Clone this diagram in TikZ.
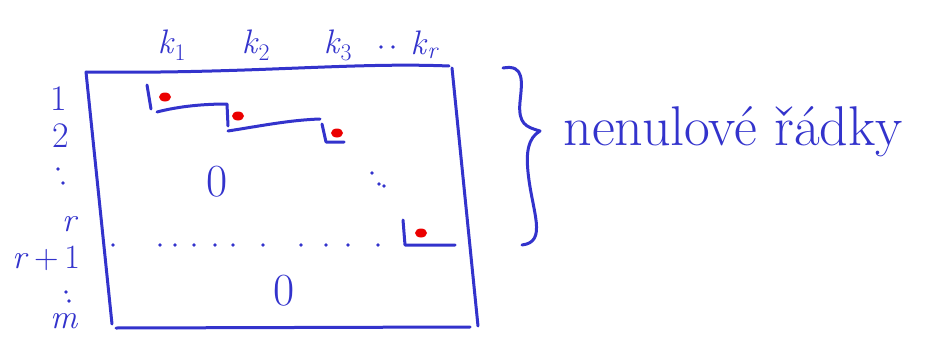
\documentclass[tikz,border=0pt]{standalone}
\usepackage{tikz}
\usetikzlibrary{calc}
\definecolor{ink}{RGB}{51,51,204}
\definecolor{pivot}{RGB}{235,0,0}

\begin{document}
\begin{tikzpicture}[x=1pt,y=-1pt,line width=3pt,line cap=round,line join=round,
  lbl/.style={ink,inner sep=0pt,font=\fontsize{34}{38}\selectfont},
  dot/.style={ink,radius=1.8}]
  \useasboundingbox (0,0) rectangle (939,337);
  % matrix frame
  \draw[ink] (86,72) .. controls (250,74) and (350,62) .. (449,66);
  \draw[ink] (86,72) -- (112,324);
  \draw[ink] (452,68) -- (478,326);
  \draw[ink] (116,328) -- (470,327);
  % column labels
  \node[lbl] (k1) at (172,45) {\textit{k}\textsubscript{1}};
  \node[lbl] (k2) at (256,45) {\textit{k}\textsubscript{2}};
  \node[lbl] (k3) at (338,45) {\textit{k}\textsubscript{3}};
  \node[lbl] (kr) at (425,45) {\textit{k}\textsubscript{\textit{r}}};
  \foreach \p in {(381,47),(393,47)}
    \fill[dot] \p circle;
  % row labels
  \node[lbl,font=\fontsize{36}{40}\selectfont] (r1) at (59,99) {1};
  \node[lbl,font=\fontsize{36}{40}\selectfont] (r2) at (61,136) {2};
  \node[lbl] (rr) at (70,224) {\textit{r}};
  \node[lbl] (rr1) at (46,258) {\textit{r}\,+\,1};
  \node[lbl] (rm) at (64,321) {\textit{m}};
  \foreach \p in {(58,169),(63,183),(66,292),(69,301)}
    \fill[dot] \p circle;
  % staircase
  \draw[ink] (147,85) -- (151,109);
  \draw[ink] (157,112) .. controls (180,106) and (205,104) .. (227,104) -- (228,126);
  \draw[ink] (228,131) .. controls (260,126) and (290,120) .. (320,119);
  \draw[ink] (322,124) -- (326,142) -- (344,142);
  \draw[ink] (403,220) -- (405,245) -- (455,245);
  % pivots
  \foreach \p in {(165,97),(238,116),(337,133),(421,233)}
    \fill[pivot] \p ellipse (6 and 4.5);
  % dotted row r
  \foreach \x in {113,160,175,194,215,233,263,301,326,348,378}
    \fill[dot] (\x,245) circle;
  \foreach \p in {(372,173),(379,184),(384,186)}
    \fill[dot] \p circle;
  % zero blocks
  \node[lbl,font=\fontsize{46}{50}\selectfont] (z1) at (217,182) {0};
  \node[lbl,font=\fontsize{46}{50}\selectfont] (z2) at (284,291) {0};
  % brace
  \draw[ink] (503,68) .. controls (525,64) and (522,82) .. (520,102)
    .. controls (518,124) and (526,127) .. (540,131)
    .. controls (528,138) and (526,152) .. (528,172)
    .. controls (532,212) and (548,242) .. (522,245);
  \node[lbl,anchor=west,font=\fontsize{56}{60}\selectfont] (rows) at (562,132) {nenulové řádky};
\end{tikzpicture}
\end{document}
